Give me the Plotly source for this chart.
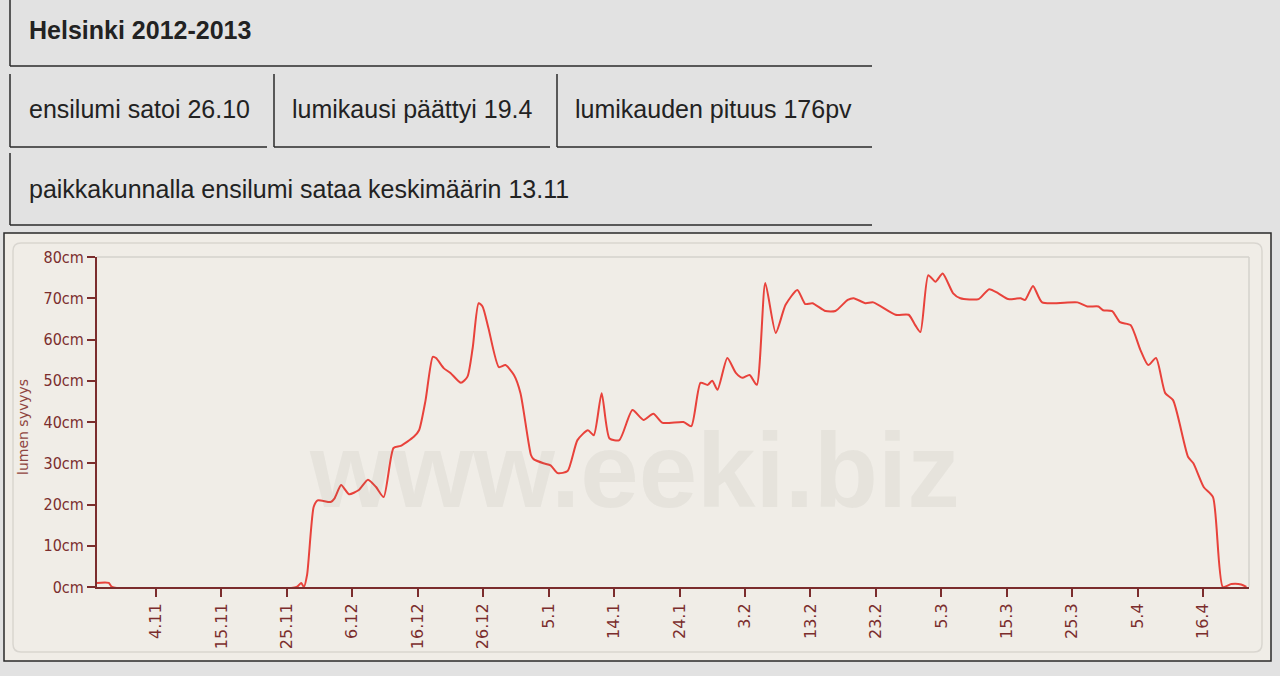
import plotly.graph_objects as go

# ---------------- data ----------------
# day index since first snow (26.10.2012) and snow depth in cm
days = [0, 1.8, 2.3, 30.5, 31.2, 31.6, 32.1, 33.1, 33.7, 35.7, 36.3, 37.3, 38.5, 40.0, 41.4,
        42.6, 43.8, 45.3, 46.4, 48.4, 49.2, 50.2, 51.3, 51.8, 53.0, 54.0, 55.6,
        56.6, 57.4, 58.3, 58.9, 59.8, 61.4, 62.4, 63.7, 64.7, 66.3, 66.7, 68.2,
        69.3, 70.4, 71.9, 73.4, 75.0, 75.9, 77.1, 78.3, 79.8, 81.8, 83.5, 85.0,
        86.4, 89.6, 90.8, 92.2, 93.3, 94.0, 94.8, 96.3, 97.6, 98.6, 99.7, 100.8,
        102.1, 103.7, 105.2, 107.0, 108.2, 109.3, 111.3, 112.8, 114.7, 115.6,
        117.4, 118.6, 122.0, 124.0, 125.0, 125.8, 127.0, 128.1, 129.2, 130.8,
        131.9, 134.7, 136.3, 137.7, 139.2, 141.1, 141.8, 143.0, 144.4, 149.8,
        151.3, 153.0, 153.7, 155.1, 156.3, 157.9, 159.4, 160.6, 161.8, 163.2,
        164.4, 166.7, 167.5, 169.1, 170.5, 172.0, 173.3, 174.8, 175.6]
depth = [1, 1, 0, 0, 1, 0, 3, 19.4, 21, 20.6, 21.5, 24.7, 22.5, 23.5, 26,
         24.3, 21.8, 33.7, 34.2, 36.4, 38, 45.3, 55.8, 55.5, 53, 51.9, 49.5,
         51, 58, 68.8, 68, 62.8, 53.3, 53.8, 51.4, 47, 32, 31, 30,
         29.5, 27.6, 28.1, 35.6, 38, 36.8, 47, 36, 35.6, 42.9, 40.5, 42,
         39.8, 40, 39, 49.5, 49, 50, 47.8, 55.5, 51.9, 50.7, 51.4, 49,
         73.7, 61.6, 68.4, 72, 68.6, 68.8, 66.9, 66.9, 69.6, 70,
         68.8, 69, 66, 66, 63.5, 61.8, 75.6, 74, 76, 71.2,
         70, 69.8, 72.2, 71.2, 69.8, 70, 69.6, 73, 69, 69,
         68, 68, 67.1, 66.9, 64.2, 63.5, 57.5, 53.8, 55.5, 47,
         45.3, 31.5, 30, 24.2, 21.8, 0, 0.7, 0.6, 0]

tick_days = [9, 19, 29, 39, 49, 59, 69, 79, 89, 99, 109, 119, 129, 139, 149, 159, 169]
tick_labels = ["4.11", "15.11", "25.11", "6.12", "16.12", "26.12", "5.1", "14.1", "24.1",
               "3.2", "13.2", "23.2", "5.3", "15.3", "25.3", "5.4", "16.4"]
y_ticks = [0, 10, 20, 30, 40, 50, 60, 70, 80]
y_tick_labels = [f"{v}cm" for v in y_ticks]

title_text = "Helsinki 2012-2013"
info_boxes = ["ensilumi satoi 26.10", "lumikausi päättyi 19.4", "lumikauden pituus 176pv"]
avg_text = "paikkakunnalla ensilumi sataa keskimäärin 13.11"

# ---------------- layout helpers ----------------
W, H = 1280, 676
def px(x):
    return x / W
def py(y):
    return 1 - y / H

PAGE_BG = "#e2e2e2"
CHART_BG = "#f0ede7"
AXIS_COL = "#7b2d2d"
LINE_COL = "#e8423b"
BORDER = "#2a2a2a"

fig = go.Figure()
fig.add_trace(go.Scatter(
    x=days, y=depth, mode="lines",
    line=dict(color=LINE_COL, width=2, shape="spline", smoothing=0.6),
    hoverinfo="skip", showlegend=False))

shapes = []
def hline(x0, x1, y, color=BORDER, w=1.5, layer="above"):
    shapes.append(dict(type="line", xref="paper", yref="paper", x0=px(x0), x1=px(x1),
                       y0=py(y), y1=py(y), line=dict(color=color, width=w), layer=layer))
def vline(x, y0, y1, color=BORDER, w=1.5, layer="above"):
    shapes.append(dict(type="line", xref="paper", yref="paper", x0=px(x), x1=px(x),
                       y0=py(y0), y1=py(y1), line=dict(color=color, width=w), layer=layer))

# header boxes (left + bottom border)
vline(10, 0, 66); hline(10, 872, 66)
for (xl, xr) in [(10, 267), (274, 550), (557, 872)]:
    vline(xl, 74, 147); hline(xl, xr, 147)
vline(10, 153, 225); hline(10, 872, 225)

# chart frame
shapes.append(dict(type="rect", xref="paper", yref="paper", x0=px(4), x1=px(1271),
                   y0=py(661), y1=py(233), fillcolor=CHART_BG,
                   line=dict(color=BORDER, width=1.5), layer="below"))
# inner rounded rect
x0, x1, y0, y1, r = px(13), px(1262), py(652), py(243), 8
rx, ry = r / W, r / H
path = (f"M {x0+rx},{y1} L {x1-rx},{y1} Q {x1},{y1} {x1},{y1-ry} "
        f"L {x1},{y0+ry} Q {x1},{y0} {x1-rx},{y0} L {x0+rx},{y0} "
        f"Q {x0},{y0} {x0},{y0+ry} L {x0},{y1-ry} Q {x0},{y1} {x0+rx},{y1} Z")
shapes.append(dict(type="path", xref="paper", yref="paper", path=path,
                   line=dict(color="#d9d6d0", width=1.5), fillcolor="rgba(0,0,0,0)", layer="below"))
# plot area light border top / right
hline(97, 1249, 257, color="#d5d2cc", w=1.5, layer="below")
vline(1249, 257, 587, color="#d5d2cc", w=1.5, layer="below")

annotations = []
HFONT = "Liberation Sans, Arial, Helvetica, sans-serif"
annotations.append(dict(text=f"<b>{title_text}</b>", x=px(27), y=py(30), xref="paper", yref="paper",
                        xanchor="left", yanchor="middle", showarrow=False,
                        font=dict(family=HFONT, size=25, color="#222")))
for xl, t in zip([27, 290, 573], info_boxes):
    annotations.append(dict(text=t, x=px(xl), y=py(109), xref="paper", yref="paper",
                            xanchor="left", yanchor="middle", showarrow=False,
                            font=dict(family=HFONT, size=25, color="#222")))
annotations.append(dict(text=avg_text, x=px(27), y=py(189), xref="paper", yref="paper",
                        xanchor="left", yanchor="middle", showarrow=False,
                        font=dict(family=HFONT, size=25, color="#222")))
# watermark
annotations.append(dict(text="<b>www.eeki.biz</b>", x=px(634), y=py(470), xref="paper", yref="paper",
                        xanchor="center", yanchor="middle", showarrow=False,
                        font=dict(family=HFONT, size=105, color="rgba(110,105,95,0.075)")))
# y title
annotations.append(dict(text="lumen syvyys", x=px(23), y=py(427), xref="paper", yref="paper",
                        xanchor="center", yanchor="middle", showarrow=False, textangle=-90,
                        font=dict(family="DejaVu Sans, Verdana, sans-serif", size=14, color="#8f4540")))

fig.update_layout(
    template="none",
    width=W, height=H, margin=dict(l=0, r=0, t=0, b=0, pad=0), autosize=False,
    paper_bgcolor=PAGE_BG, plot_bgcolor=CHART_BG,
    shapes=shapes, annotations=annotations, showlegend=False,
    xaxis=dict(domain=[px(97), px(1249)], range=[0, 176], showgrid=False, zeroline=False,
               automargin=False,
               tickmode="array", tickvals=tick_days, ticktext=tick_labels, tickangle=-90,
               ticks="outside", ticklen=8, tickwidth=2, tickcolor=AXIS_COL,
               showline=True, linecolor=AXIS_COL, linewidth=2,
               tickfont=dict(family="DejaVu Sans, Verdana, sans-serif", size=16, color=AXIS_COL),
               fixedrange=True),
    yaxis=dict(domain=[py(587), py(257)], range=[0, 80], showgrid=False, zeroline=False,
               automargin=False,
               tickmode="array", tickvals=y_ticks, ticktext=y_tick_labels,
               ticks="outside", ticklen=8, tickwidth=2, tickcolor=AXIS_COL,
               showline=True, linecolor=AXIS_COL, linewidth=2,
               tickfont=dict(family="DejaVu Sans Condensed, DejaVu Sans, Verdana, sans-serif", size=16, color=AXIS_COL),
               fixedrange=True),
)

fig.write_html("out.html", config={"displayModeBar": False},
               post_script="document.body.style.margin='0px';document.body.style.background='#e2e2e2';")
